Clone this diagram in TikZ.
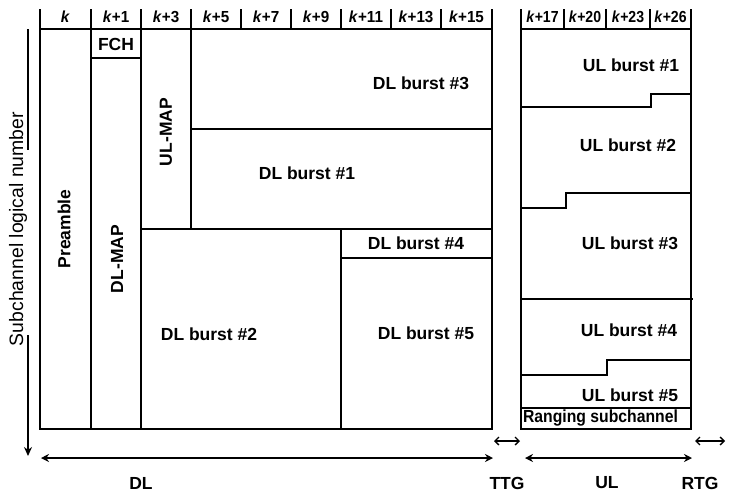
\documentclass[tikz,border=0pt]{standalone}
\usepackage{fontspec}
\setmainfont{Liberation Sans}
\usetikzlibrary{arrows.meta}
\begin{document}
\begin{tikzpicture}[x=1pt,y=-1pt,line width=1.7pt,
  lbl/.style={font=\bfseries\fontsize{17.5}{20}\selectfont,inner sep=0pt},
  hdr/.style={font=\bfseries\fontsize{16}{18}\selectfont,inner sep=0pt},
  rot/.style={lbl,rotate=90},
  bigarrow/.style={line width=1.7pt,{Stealth[length=8pt,width=8pt]}-{Stealth[length=8pt,width=8pt]}},
  smallarrow/.style={line width=1.3pt,{Straight Barb[length=4pt,width=8pt]}-{Straight Barb[length=4pt,width=8pt]}}]
\useasboundingbox (0,0) rectangle (730,499);
% ---------- DL frame ----------
\foreach \x in {40,91,141,191,241,291,341,391,441,492}
  \draw (\x,9) -- (\x,29);
\draw (40,29) rectangle (492,429);
\draw (91,29) -- (91,429);
\draw (91,58) -- (141,58);
\draw (141,29) -- (141,429);
\draw (191,29) -- (191,229);
\draw (191,129) -- (492,129);
\draw (141,229) -- (492,229);
\draw (341,229) -- (341,429);
\draw (341,258) -- (492,258);
% header labels
\foreach \x/\t/\n in {65.5/{}/h0,116/+1/h1,166/+3/h3,216/+5/h5,266/+7/h7,316/+9/h9,366/+11/h11,416/+13/h13,466.5/+15/h15}
  \node[hdr,xscale=0.95] (\n) at (\x,16.5) {\textit{k}\t};
% labels
\node[lbl] (fch) at (116,44) {FCH};
\node[rot] (pre) at (64,229) {Preamble};
\node[rot] (dlmap) at (117,259) {DL-MAP};
\node[rot] (ulmap) at (166,132) {UL-MAP};
\node[lbl] (dl3) at (421,83) {DL burst \#3};
\node[lbl] (dl1) at (307,173) {DL burst \#1};
\node[lbl] (dl2) at (209,334) {DL burst \#2};
\node[lbl] (dl4) at (416,243) {DL burst \#4};
\node[lbl] (dl5) at (426,333) {DL burst \#5};
% ---------- UL frame ----------
\foreach \x in {521,564,606,650,691}
  \draw (\x,9) -- (\x,29);
\draw (521,29) rectangle (691,429);
\draw (521,107) -- (651,107) -- (651,94) -- (691,94);
\draw (521,208) -- (566,208) -- (566,193) -- (691,193);
\draw (521,299) -- (693,299);
\draw (521,375) -- (607,375) -- (607,360) -- (691,360);
\draw (521,408) -- (691,408);
\foreach \x/\t/\n in {542.5/+17/h17,585/+20/h20,628/+23/h23,670.5/+26/h26}
  \node[hdr,xscale=0.88] (\n) at (\x,16.5) {\textit{k}\t};
\node[lbl] (ul1) at (631,65) {UL burst \#1};
\node[lbl] (ul2) at (628,145) {UL burst \#2};
\node[lbl] (ul3) at (630,243) {UL burst \#3};
\node[lbl] (ul4) at (629,330) {UL burst \#4};
\node[lbl] (ul5) at (630,395) {UL burst \#5};
\node[lbl,xscale=0.9] (rng) at (600.5,418) {Ranging subchannel};
% ---------- axis ----------
\node[font=\fontsize{19.4}{22}\selectfont,inner sep=0pt,rotate=90] (axis) at (18,229) {Subchannel logical number};
\coordinate (a0) at (28,29);
\coordinate (a1) at (28,150);
\coordinate (a2) at (28,335);
\coordinate (a3) at (28,456);
\draw (a0) -- (a1);
\draw[-{Stealth[length=9pt,width=8pt]}] (a2) -- (a3);
% ---------- bottom arrows ----------
\coordinate (dlL) at (41,458);
\coordinate (dlR) at (493,458);
\coordinate (ulL) at (525,458);
\coordinate (ulR) at (692,458);
\coordinate (ttgL) at (494,441);
\coordinate (ttgR) at (520,441);
\coordinate (rtgL) at (695,441);
\coordinate (rtgR) at (725,441);
\draw[bigarrow] (dlL) -- (dlR);
\draw[bigarrow] (ulL) -- (ulR);
\draw[smallarrow] (ttgL) -- (ttgR);
\draw[smallarrow] (rtgL) -- (rtgR);
\node[lbl] (dl) at (141,483) {DL};
\node[lbl] (ttg) at (507,483) {TTG};
\node[lbl] (ul) at (607,483) {UL};
\node[lbl] (rtg) at (700,483) {RTG};
\end{tikzpicture}
\end{document}
